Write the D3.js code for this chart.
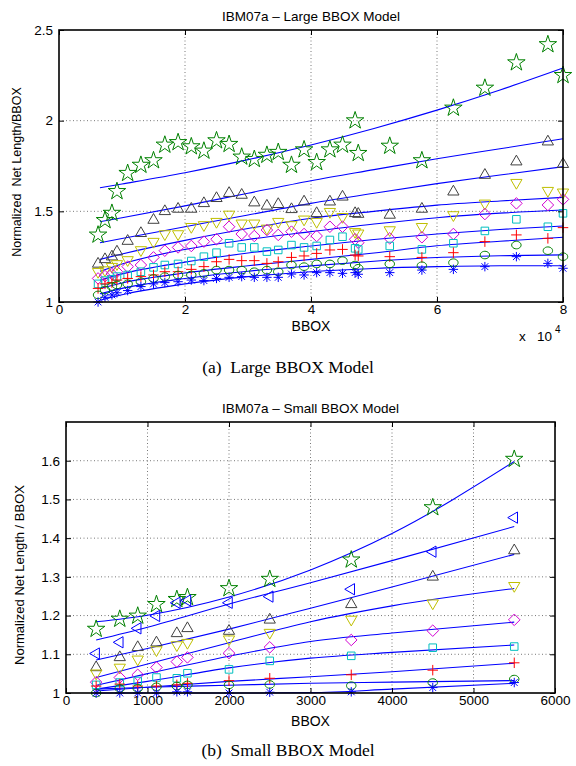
<!DOCTYPE html>
<html>
<head>
<meta charset="utf-8">
<script src="https://cdn.jsdelivr.net/npm/d3@7"></script>
<style>
  body { margin: 0; background: #fff; }
  svg { display: block; }
  text { font-family: "Liberation Sans", Arial, sans-serif; fill: #000; white-space: pre; }
  .caption { font-family: "Liberation Serif", "Times New Roman", serif; }
</style>
</head>
<body>
<svg id="fig" width="576" height="766"></svg>
<script>
// ---- (a) Large BBOX Model data ----
const largeX = [6200, 7300, 8400, 9200, 10900, 13000, 15000, 16800, 18900, 21000, 23000,
  25000, 27000, 29000, 31000, 33000, 34800, 36900, 38900, 40900, 43000, 45000, 47000,
  47500, 52500, 57600, 62600, 67600, 72600, 77600, 80000];
const largeStar = [1.37, 1.45, 1.49, 1.61, 1.71, 1.755, 1.78, 1.866, 1.88, 1.857, 1.833,
  1.89, 1.87, 1.80, 1.787, 1.81, 1.826, 1.755, 1.84, 1.77, 1.84, 1.866, 2.0, 1.82, 1.86,
  1.78, 2.07, 2.18, 2.32, 2.42, 2.25];
const largeTriUp = [1.21, 1.235, 1.25, 1.277, 1.336, 1.379, 1.452, 1.50, 1.513, 1.513, 1.544,
  1.572, 1.60, 1.59, 1.548, 1.53, 1.539, 1.511, 1.553, 1.489, 1.553, 1.58, 1.489, 1.485,
  1.48, 1.513, 1.608, 1.70, 1.774, 1.884, 1.76];
const largeTriDown = [1.167, 1.176, 1.195, 1.21, 1.232, 1.287, 1.333, 1.375, 1.375, 1.415,
  1.425, 1.443, 1.483, 1.434, 1.434, 1.406, 1.443, 1.425, 1.456, 1.443, 1.498, 1.47, 1.387,
  1.379, 1.397, 1.415, 1.48, 1.544, 1.658, 1.614, 1.605];
const largeDiamond = [1.13, 1.143, 1.154, 1.167, 1.195, 1.204, 1.246, 1.283, 1.301, 1.309,
  1.333, 1.346, 1.415, 1.375, 1.364, 1.397, 1.37, 1.388, 1.375, 1.364, 1.415, 1.415, 1.346,
  1.327, 1.351, 1.357, 1.375, 1.485, 1.544, 1.535, 1.566];
const largeSquare = [1.10, 1.118, 1.125, 1.14, 1.149, 1.167, 1.191, 1.204, 1.21, 1.226, 1.25,
  1.272, 1.324, 1.301, 1.301, 1.278, 1.287, 1.314, 1.301, 1.309, 1.342, 1.36, 1.296, 1.29,
  1.309, 1.29, 1.324, 1.392, 1.456, 1.415, 1.489];
const largePlus = [1.075, 1.10, 1.107, 1.121, 1.13, 1.14, 1.149, 1.167, 1.167, 1.18, 1.195,
  1.222, 1.235, 1.228, 1.228, 1.213, 1.222, 1.246, 1.254, 1.268, 1.287, 1.29, 1.259, 1.254,
  1.25, 1.246, 1.272, 1.333, 1.37, 1.351, 1.41];
const largeCircle = [1.039, 1.066, 1.085, 1.094, 1.10, 1.112, 1.13, 1.14, 1.149, 1.149, 1.158,
  1.176, 1.176, 1.176, 1.167, 1.176, 1.167, 1.204, 1.195, 1.21, 1.21, 1.228, 1.204, 1.186,
  1.21, 1.20, 1.217, 1.259, 1.314, 1.283, 1.25];
const largeAsterisk = [1.0, 1.026, 1.039, 1.051, 1.063, 1.085, 1.10, 1.107, 1.112, 1.121,
  1.118, 1.13, 1.136, 1.14, 1.136, 1.136, 1.136, 1.154, 1.149, 1.162, 1.162, 1.158, 1.162,
  1.153, 1.162, 1.176, 1.18, 1.195, 1.25, 1.213, 1.186];

// model curves (at a few x positions)
const largeFitX = [6500, 10000, 20000, 30000, 40000, 50000, 60000, 70000, 80000];
const largeFits = [
  [1.63, 1.651, 1.713, 1.785, 1.866, 1.957, 2.058, 2.169, 2.29],
  [1.443, 1.465, 1.53, 1.60, 1.669, 1.73, 1.79, 1.845, 1.90],
  [1.327, 1.35, 1.415, 1.48, 1.544, 1.60, 1.653, 1.70, 1.746],
  [1.235, 1.265, 1.34, 1.405, 1.462, 1.50, 1.534, 1.557, 1.577],
  [1.17, 1.21, 1.29, 1.345, 1.388, 1.43, 1.465, 1.49, 1.507],
  [1.12, 1.155, 1.22, 1.27, 1.309, 1.345, 1.375, 1.40, 1.419],
  [1.075, 1.105, 1.16, 1.20, 1.235, 1.27, 1.31, 1.335, 1.357],
  [1.045, 1.075, 1.13, 1.17, 1.199, 1.225, 1.245, 1.255, 1.26],
  [1.01, 1.04, 1.10, 1.14, 1.167, 1.185, 1.195, 1.20, 1.20]
];
const largeXTicks = [0, 20000, 40000, 60000, 80000];
const largeYTicks = [1, 1.5, 2, 2.5];

// ---- (b) Small BBOX Model data ----
const smallX = [370, 660, 880, 1110, 1360, 1490, 2000, 2500, 3500, 4500, 5500];
const smallStar = [1.165, 1.191, 1.199, 1.229, 1.242, 1.247, 1.27, 1.294, 1.344, 1.479, 1.604];
const smallTriLeft = [1.102, 1.131, 1.167, 1.199, 1.233, 1.239, 1.233, 1.249, 1.268, 1.365, 1.453];
const smallTriUp = [1.066, 1.092, 1.118, 1.13, 1.154, 1.167, 1.16, 1.189, 1.229, 1.30, 1.368];
const smallTriDown = [1.051, 1.066, 1.087, 1.111, 1.124, 1.13, 1.139, 1.156, 1.19, 1.232, 1.277];
const smallDiamond = [1.028, 1.04, 1.047, 1.066, 1.081, 1.092, 1.103, 1.118, 1.137, 1.161, 1.189];
const smallSquare = [1.021, 1.027, 1.031, 1.04, 1.038, 1.051, 1.061, 1.083, 1.096, 1.117, 1.12];
const smallPlus = [1.018, 1.023, 1.018, 1.018, 1.021, 1.025, 1.032, 1.038, 1.047, 1.059, 1.078];
const smallCircle = [1.0, 1.012, 1.012, 1.016, 1.018, 1.021, 1.021, 1.022, 1.019, 1.027, 1.036];
const smallAsterisk = [1.0, 1.0, 1.0, 1.0, 1.003, 1.003, 1.0, 1.002, 1.003, 1.014, 1.027];

const smallFitX = [370, 1000, 2000, 3000, 4000, 5500];
const smallFits = [
  [1.184, 1.201, 1.248, 1.318, 1.412, 1.598],
  [1.137, 1.17, 1.23, 1.285, 1.342, 1.43],
  [1.085, 1.115, 1.165, 1.219, 1.274, 1.358],
  [1.04, 1.075, 1.13, 1.184, 1.225, 1.27],
  [1.02, 1.05, 1.095, 1.133, 1.155, 1.183],
  [1.01, 1.03, 1.065, 1.09, 1.105, 1.124],
  [1.005, 1.015, 1.03, 1.042, 1.055, 1.077],
  [1.01, 1.015, 1.02, 1.025, 1.028, 1.032],
  [1.0, 1.0, 1.0, 1.001, 1.01, 1.025]
];
const smallXTicks = [0, 1000, 2000, 3000, 4000, 5000, 6000];
const smallYTicks = [1, 1.1, 1.2, 1.3, 1.4, 1.5, 1.6];

// ---- marker shapes (MATLAB style, outlines only) ----
function triangle(angle) {
  return {
    draw(ctx, size) {
      const r = Math.sqrt(size) * 0.62;
      for (let i = 0; i < 3; i++) {
        const a = angle + i * 2 * Math.PI / 3;
        const px = r * Math.cos(a), py = r * Math.sin(a);
        if (i === 0) ctx.moveTo(px, py); else ctx.lineTo(px, py);
      }
      ctx.closePath();
    }
  };
}
const symDiamond = {
  draw(ctx, size) {
    const r = Math.sqrt(size) * 0.55;
    ctx.moveTo(0, -r); ctx.lineTo(r, 0); ctx.lineTo(0, r); ctx.lineTo(-r, 0); ctx.closePath();
  }
};
const symSquare = {
  draw(ctx, size) {
    const r = Math.sqrt(size) * 0.36;
    ctx.rect(-r, -r, 2 * r, 2 * r);
  }
};
const symPlus = {
  draw(ctx, size) {
    const r = Math.sqrt(size) * 0.5;
    ctx.moveTo(-r, 0); ctx.lineTo(r, 0); ctx.moveTo(0, -r); ctx.lineTo(0, r);
  }
};
const symAsterisk = {
  draw(ctx, size) {
    const r = Math.sqrt(size) * 0.45, d = r * 0.72;
    ctx.moveTo(-r, 0); ctx.lineTo(r, 0); ctx.moveTo(0, -r); ctx.lineTo(0, r);
    ctx.moveTo(-d, -d); ctx.lineTo(d, d); ctx.moveTo(-d, d); ctx.lineTo(d, -d);
  }
};
const symCircle = {
  draw(ctx, size) {
    const rx = Math.sqrt(size) * 0.45, ry = rx * 0.8;
    ctx.moveTo(rx, 0);
    for (let i = 1; i <= 24; i++) {
      const a = i * Math.PI / 12;
      ctx.lineTo(rx * Math.cos(a), ry * Math.sin(a));
    }
  }
};

const green = "#008000", gray = "#404040", yellow = "#bfbf00", magenta = "#d200d2",
  cyan = "#00bfbf", red = "#ff0000", blue = "#0000ff";

function drawPanel(opt) {
  const svg = d3.select("#fig");
  const m = opt.box;
  const x = d3.scaleLinear().domain(opt.xDomain).range([m.left, m.right]);
  const y = d3.scaleLinear().domain(opt.yDomain).range([m.bottom, m.top]);
  const g = svg.append("g");

  // grid
  g.append("g")
    .selectAll("line")
    .data(opt.xTicks.slice(1, -1))
    .join("line")
    .attr("x1", (d) => x(d)).attr("x2", (d) => x(d))
    .attr("y1", m.top).attr("y2", m.bottom)
    .attr("stroke", "#555").attr("stroke-width", 0.8).attr("stroke-dasharray", "1,2.5");
  g.append("g")
    .selectAll("line")
    .data(opt.yTicks.filter((d) => d > opt.yDomain[0] && d < opt.yDomain[1]))
    .join("line")
    .attr("y1", (d) => y(d)).attr("y2", (d) => y(d))
    .attr("x1", m.left).attr("x2", m.right)
    .attr("stroke", "#555").attr("stroke-width", 0.8).attr("stroke-dasharray", "1,2.5");

  // model curves
  const line = d3.line()
    .x((d) => x(d[0]))
    .y((d) => y(d[1]))
    .curve(d3.curveMonotoneX);
  opt.fits.forEach((f) => {
    g.append("path")
      .datum(opt.fitX.map((v, i) => [v, f[i]]))
      .attr("fill", "none")
      .attr("stroke", blue)
      .attr("stroke-width", 1.1)
      .attr("d", line);
  });

  // markers
  opt.series.forEach((s) => {
    g.append("g")
      .selectAll("path")
      .data(opt.xs.map((v, i) => [v, s.values[i]]))
      .join("path")
      .attr("transform", (d) => `translate(${x(d[0])},${y(d[1])})`)
      .attr("d", d3.symbol().type(s.type).size(s.size))
      .attr("fill", "none")
      .attr("stroke", s.color)
      .attr("stroke-width", 1);
  });

  // axes box with inner ticks (MATLAB look)
  const tick = 5;
  const bottomAxis = d3.axisBottom(x).tickValues(opt.xTicks).tickSizeInner(-tick).tickSizeOuter(0)
    .tickPadding(4).tickFormat(opt.xFormat);
  const topAxis = d3.axisTop(x).tickValues(opt.xTicks).tickSizeInner(-tick).tickSizeOuter(0)
    .tickFormat("");
  const leftAxis = d3.axisLeft(y).tickValues(opt.yTicks).tickSizeInner(-tick).tickSizeOuter(0)
    .tickPadding(6).tickFormat(d3.format("~g"));
  const rightAxis = d3.axisRight(y).tickValues(opt.yTicks).tickSizeInner(-tick).tickSizeOuter(0)
    .tickFormat("");

  [[bottomAxis, `translate(0,${m.bottom})`], [topAxis, `translate(0,${m.top})`],
   [leftAxis, `translate(${m.left},0)`], [rightAxis, `translate(${m.right},0)`]].forEach((a) => {
    const ax = g.append("g").attr("transform", a[1]).call(a[0]);
    ax.select(".domain").remove();
    ax.selectAll("line").attr("stroke", "#000").attr("stroke-width", 1);
    ax.selectAll("text").attr("font-size", 13.5)
      .style("font-family", "'Liberation Sans', Arial, sans-serif").attr("fill", "#000");
  });
  // pull the x tick labels up a little, as in the original
  g.selectAll("text").filter(function () { return this.getAttribute("dy") === "0.71em"; })
    .attr("dy", "0.62em");

  g.append("rect")
    .attr("x", m.left).attr("y", m.top)
    .attr("width", m.right - m.left).attr("height", m.bottom - m.top)
    .attr("fill", "none").attr("stroke", "#000").attr("stroke-width", 1.6);

  // titles and labels
  svg.append("text")
    .attr("x", (m.left + m.right) / 2).attr("y", m.top - 9)
    .attr("text-anchor", "middle").attr("font-size", 13.5)
    .text(opt.title);
  svg.append("text")
    .attr("x", (m.left + m.right) / 2).attr("y", opt.xLabelY)
    .attr("text-anchor", "middle").attr("font-size", 14)
    .text("BBOX");
  svg.append("text")
    .attr("transform", `translate(${opt.yLabelX},${opt.yLabelMid}) rotate(-90)`)
    .attr("text-anchor", "middle").attr("font-size", opt.yLabelSize)
    .text(opt.yLabel);
  svg.append("text")
    .attr("class", "caption")
    .attr("x", 288).attr("y", opt.captionY)
    .attr("text-anchor", "middle").attr("font-size", 17.5)
    .text(opt.caption);
}

drawPanel({
  box: { left: 59, right: 563, top: 30, bottom: 302 },
  xDomain: [0, 80000], yDomain: [1, 2.5],
  xTicks: largeXTicks, yTicks: largeYTicks,
  xFormat: (d) => d / 10000,
  xs: largeX,
  fitX: largeFitX, fits: largeFits,
  series: [
    { values: largeStar, type: d3.symbolStar, size: 95, color: green },
    { values: largeTriUp, type: triangle(-Math.PI / 2), size: 110, color: gray },
    { values: largeTriDown, type: triangle(Math.PI / 2), size: 110, color: yellow },
    { values: largeDiamond, type: symDiamond, size: 110, color: magenta },
    { values: largeSquare, type: symSquare, size: 110, color: cyan },
    { values: largePlus, type: symPlus, size: 110, color: red },
    { values: largeCircle, type: symCircle, size: 110, color: green },
    { values: largeAsterisk, type: symAsterisk, size: 110, color: blue }
  ],
  title: "IBM07a \u2013 Large BBOX Model",
  xLabelY: 331, yLabelX: 21, yLabelMid: 172, yLabelSize: 12.5,
  yLabel: "Normalized  Net Length/BBOX",
  caption: "(a)  Large BBOX Model", captionY: 373
});

// x 10^4 multiplier for panel (a)
const mult = d3.select("#fig").append("text").attr("y", 341).attr("font-size", 13.5);
mult.append("tspan").attr("x", 519).text("x");
mult.append("tspan").attr("x", 537).text("10");
mult.append("tspan").attr("x", 555).attr("dy", -8).attr("font-size", 10).text("4");

drawPanel({
  box: { left: 66, right: 555, top: 422, bottom: 693 },
  xDomain: [0, 6000], yDomain: [1, 1.7],
  xTicks: smallXTicks, yTicks: smallYTicks,
  xFormat: d3.format("d"),
  xs: smallX,
  fitX: smallFitX, fits: smallFits,
  series: [
    { values: smallStar, type: d3.symbolStar, size: 95, color: green },
    { values: smallTriLeft, type: triangle(Math.PI), size: 110, color: blue },
    { values: smallTriUp, type: triangle(-Math.PI / 2), size: 110, color: gray },
    { values: smallTriDown, type: triangle(Math.PI / 2), size: 110, color: yellow },
    { values: smallDiamond, type: symDiamond, size: 110, color: magenta },
    { values: smallSquare, type: symSquare, size: 110, color: cyan },
    { values: smallPlus, type: symPlus, size: 110, color: red },
    { values: smallCircle, type: symCircle, size: 110, color: green },
    { values: smallAsterisk, type: symAsterisk, size: 110, color: blue }
  ],
  title: "IBM07a \u2013 Small BBOX Model",
  xLabelY: 726, yLabelX: 24, yLabelMid: 575, yLabelSize: 13,
  yLabel: "Normalized Net Length / BBOX",
  caption: "(b)  Small BBOX Model", captionY: 756
});
</script>
</body>
</html>
